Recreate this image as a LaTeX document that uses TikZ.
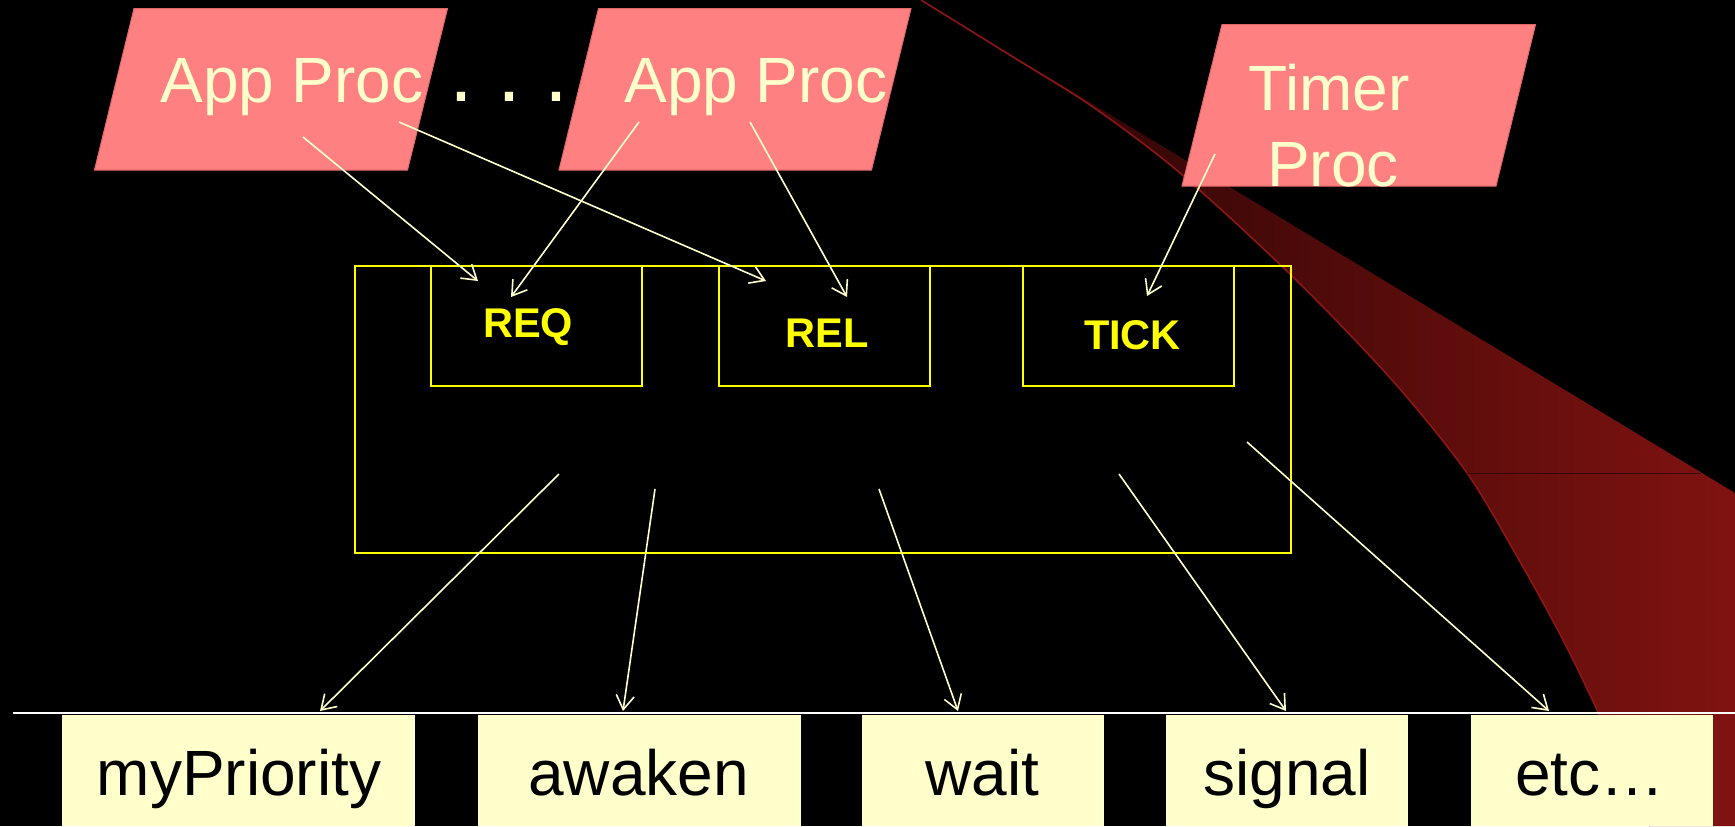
\documentclass[tikz,border=0pt]{standalone}
\usepackage{fontspec}
\setmainfont{Liberation Sans}
\usetikzlibrary{arrows.meta}

\definecolor{procpink}{RGB}{255,128,128}
\definecolor{procedge}{RGB}{225,105,105}
\definecolor{paleyellow}{RGB}{255,255,204}
\definecolor{brightyellow}{RGB}{255,255,0}
\definecolor{swooshdark}{RGB}{30,3,3}
\definecolor{swooshmid}{RGB}{92,15,14}
\definecolor{swooshred}{RGB}{128,19,17}
\definecolor{swooshedge}{RGB}{140,22,20}
\definecolor{swooshseam}{RGB}{55,6,6}

\begin{document}
\begin{tikzpicture}[x=0.5pt, y=-0.5pt,
  procbox/.style={fill=procpink, draw=procedge, line width=0.5pt},
  proctext/.style={text=paleyellow, font=\fontsize{32}{38}\selectfont, inner sep=0pt, anchor=base},
  frame/.style={draw=brightyellow, line width=1pt},
  cmdtext/.style={text=brightyellow, font=\bfseries\fontsize{20.75}{24}\selectfont, inner sep=0pt, anchor=base},
  flow/.style={draw=paleyellow, line width=0.8pt, -{Straight Barb[length=7pt,width=9pt]}},
  cell/.style={fill=paleyellow},
  celltext/.style={text=black, font=\fontsize{32}{38}\selectfont, inner sep=0pt, anchor=base}]

% page and background
\useasboundingbox (0,0) rectangle (1735,826);
\fill[black] (0,0) rectangle (1735,826);

% dark red swoosh in the background
\shade[left color=swooshdark, middle color=swooshmid, right color=swooshred]
  (921,0) -- (1735,493) -- (1735,826) --
  plot[smooth] coordinates {(1650,826) (1598,712) (1563,640) (1523,567) (1467,473)
    (1392,380) (1293,277) (1180,173) (1093,107) (1013,57) (921,0)} -- cycle;
\draw[swooshedge, line width=0.8pt]
  plot[smooth] coordinates {(921,0) (1013,57) (1093,107) (1180,173) (1293,277)
    (1392,380) (1467,473) (1523,567) (1563,640) (1598,712) (1650,826)};
\draw[swooshseam, line width=0.5pt] (1467,473) -- (1701,473);

% process parallelograms
\filldraw[procbox] (134,8.5) -- (447.5,8.5) -- (407.5,170) -- (94.5,170) -- cycle;
\filldraw[procbox] (598.5,8.5) -- (911,8.5) -- (871.5,170) -- (559,170) -- cycle;
\filldraw[procbox] (1222,24.5) -- (1535.5,24.5) -- (1496,186) -- (1182,186) -- cycle;

\node[proctext] (app1) at (292,102) {App Proc};
\node[proctext] (app2) at (756,102) {App Proc};
\node[proctext, font=\fontsize{43}{50}\selectfont\frenchspacing] (dots) at (509,101) {. . .};
\node[proctext] (timer) at (1329,110) {Timer};
\node[proctext] (timerproc) at (1333,186) {Proc};

% monitor with its entry queues
\draw[frame] (355,265.5) rectangle (1290.5,553);
\draw[frame] (430.5,265.5) rectangle (642,385.5);
\draw[frame] (719,265.5) rectangle (929.5,385.5);
\draw[frame] (1023,265.5) rectangle (1234,385.5);

\node[cmdtext] (req) at (528,337.5) {REQ};
\node[cmdtext] (rel) at (827,347.5) {REL};
\node[cmdtext] (tick) at (1132.5,349) {TICK};

% operations row
\draw[white, line width=1pt] (13,712.5) -- (1735,712.5);
\fill[cell] (62,715) rectangle (415,826);
\fill[cell] (478,715) rectangle (800.5,826);
\fill[cell] (862,715) rectangle (1104,826);
\fill[cell] (1166,715) rectangle (1408,826);
\fill[cell] (1470.5,715) rectangle (1712.5,826);

\node[celltext] (mypriority) at (239,795) {myPriority};
\node[celltext] (awaken) at (638.5,795) {awaken};
\node[celltext] (wait) at (982.5,795) {wait};
\node[celltext] (signal) at (1287,795) {signal};
\node[celltext] (etc) at (1590,795) {etc…};

% end points of the calls
\coordinate (app1-req) at (303,137);
\coordinate (req-app1) at (478,281);
\coordinate (app1-rel) at (399,122);
\coordinate (rel-app1) at (766,281);
\coordinate (app2-req) at (639,122);
\coordinate (req-app2) at (511,297);
\coordinate (app2-rel) at (750,122);
\coordinate (rel-app2) at (847,297);
\coordinate (timer-tick) at (1215,154);
\coordinate (tick-timer) at (1147,296);

\coordinate (mon-a) at (559,474);
\coordinate (mon-b) at (655,489);
\coordinate (mon-c) at (879,489);
\coordinate (mon-d) at (1119,474);
\coordinate (mon-e) at (1247,442);
\coordinate (op-a) at (320,711);
\coordinate (op-b) at (623,711);
\coordinate (op-c) at (958,711);
\coordinate (op-d) at (1286,711);
\coordinate (op-e) at (1549,711);

% calls into the monitor
\draw[flow] (app1-req) -- (req-app1);
\draw[flow] (app1-rel) -- (rel-app1);
\draw[flow] (app2-req) -- (req-app2);
\draw[flow] (app2-rel) -- (rel-app2);
\draw[flow] (timer-tick) -- (tick-timer);

% monitor operations
\draw[flow] (mon-a) -- (op-a);
\draw[flow] (mon-b) -- (op-b);
\draw[flow] (mon-c) -- (op-c);
\draw[flow] (mon-d) -- (op-d);
\draw[flow] (mon-e) -- (op-e);
\end{tikzpicture}
\end{document}
